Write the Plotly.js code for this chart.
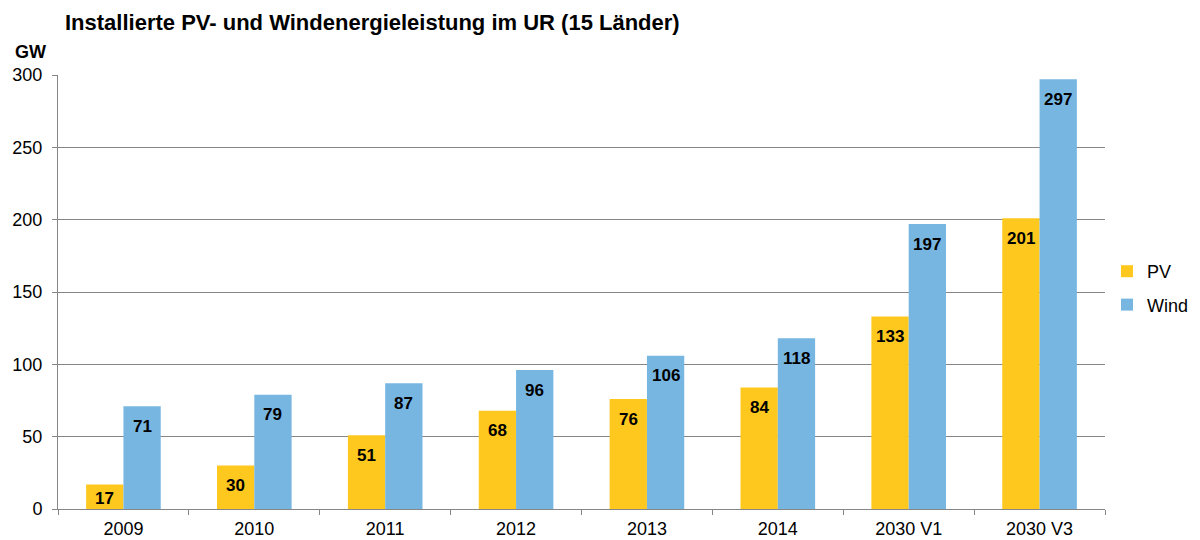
<!DOCTYPE html>
<html><head><meta charset="utf-8">
<script src="https://cdn.plot.ly/plotly-3.0.1.min.js"></script>
<style>html,body{margin:0;padding:0;background:#fff}#chart{width:1200px;height:540px}</style>
</head><body><div id="chart"></div>
<script>
const categories = ["2009","2010","2011","2012","2013","2014","2030 V1","2030 V3"];
const pvValues = [17,30,51,68,76,84,133,201];
const windValues = [71,79,87,96,106,118,197,297];
const yTicks = [0,50,100,150,200,250,300];

const FONT = "Liberation Sans, Arial, sans-serif";
const plotH = 540-75-31, plotW = 1200-58-95;
const bargap = 0.43;
const barPx = plotW/categories.length*(1-bargap)/2;

function labels(vals, dir){
  return vals.map((v,i)=>{
    const h = v/300*plotH;
    return {x: i, y: v, xref:'x', yref:'y', text:'<b>'+v+'</b>', showarrow:false,
      xshift: dir*barPx/2, yshift: -Math.min(20, Math.max(h/2, h-10.5)), font:{family:FONT,size:17,color:'#000'}};
  });
}

const data = [
  {type:'bar', name:'PV', legendgroup:'pv', x:categories, y:pvValues, marker:{color:'#FFC81E'}, hoverinfo:'none'},
  {type:'bar', name:'Wind', legendgroup:'wind', x:categories, y:windValues, marker:{color:'#78B6E2'}, hoverinfo:'none'}
];
const layout = {
  width:1200, height:540,
  margin:{l:58, r:95, t:75, b:31, autoexpand:false},
  paper_bgcolor:'#fff', plot_bgcolor:'#fff',
  barmode:'group', bargap:bargap, bargroupgap:0,
  font:{family:FONT, size:18, color:'#000'},
  title:{text:'<b>Installierte PV- und Windenergieleistung im UR (15 Länder)</b>', x:65/1200, xref:'container', xanchor:'left', y:1-22/540, yref:'container', yanchor:'middle', font:{family:FONT,size:22,color:'#000'}},
  xaxis:{type:'category', categoryorder:'array', categoryarray:categories, range:[-0.5, categories.length-0.5], autorange:false, showline:true, linecolor:'#868686', linewidth:1, ticks:'outside', tickson:'boundaries', ticklen:5, tickcolor:'#868686', showgrid:false, tickfont:{size:18}, tickangle:0, ticklabelstandoff:3, automargin:false, fixedrange:true},
  yaxis:{range:[0,300], autorange:false, tickvals:yTicks, showline:true, linecolor:'#868686', linewidth:1, ticks:'outside', ticklen:5, tickcolor:'#868686', showgrid:true, gridcolor:'#868686', gridwidth:1, zeroline:false, tickfont:{size:18}, ticklabelstandoff:6, automargin:false, fixedrange:true},
  legend:{xref:'container', yref:'container', x:1107/1200, xanchor:'left', y:1-288/540, yanchor:'middle', font:{size:18}, bgcolor:'rgba(0,0,0,0)', traceorder:'grouped', tracegroupgap:7, itemwidth:30},
  showlegend:true,
  annotations: labels(pvValues,-1).concat(labels(windValues,1)).concat([
    {xref:'paper', yref:'paper', x:-45/plotW, y:1+23/plotH, xanchor:'left', yanchor:'middle', text:'<b>GW</b>', showarrow:false, font:{family:FONT,size:18,color:'#000'}}
  ])
};
Plotly.newPlot('chart', data, layout, {displayModeBar:false, staticPlot:true});
</script></body></html>
